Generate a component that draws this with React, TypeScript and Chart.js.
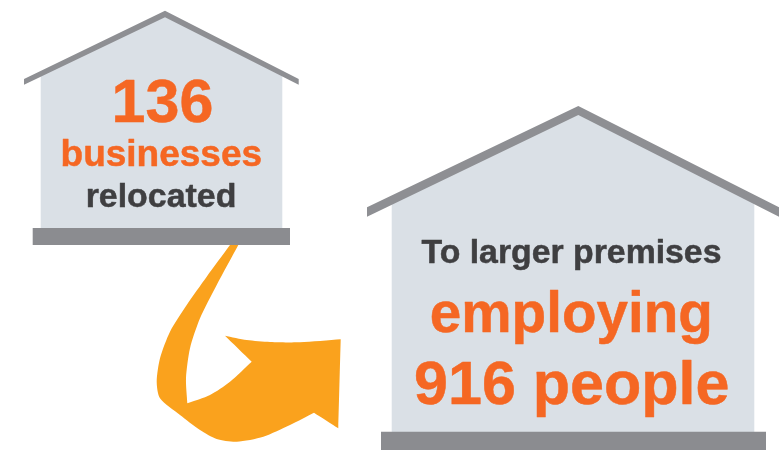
import React, { useEffect, useRef } from "react";
import { Chart, registerables } from "chart.js";

Chart.register(...registerables);

type P = [number, number];

const relocatedBusinesses = 136;
const peopleEmployed = 916;

const smallWalls: P[] = [[40.7, 76], [165, 16], [282.3, 76], [282.3, 228], [40.7, 228]];
const smallRoof: P[] = [[24, 79], [165, 10.7], [298.7, 79], [298.7, 84.8], [165, 17.2], [24, 84.8]];
const smallBase: P[] = [[32.7, 228], [290, 228], [290, 245], [32.7, 245]];

const largeWalls: P[] = [[391.7, 202], [578.3, 114], [754.3, 202], [754.3, 432], [391.7, 432]];
const largeRoof: P[] = [[367, 207.3], [578.3, 106], [779, 207.3], [779, 216.7], [578.3, 115], [367, 216.7]];
const largeBase: P[] = [[381, 431.7], [766, 431.7], [766, 450], [381, 450]];

// Outline; a repeated point is a sharp corner of the arrow.
const arrowShape: P[] = [
  [230, 245], [230, 245], [238.3, 245], [238.3, 245], [216.7, 285], [200, 318.3],
  [190, 348.3], [186, 378.3], [187.3, 403.3], [187.3, 403.3], [210, 395],
  [230, 381.7], [251.7, 361.7], [251.7, 361.7], [225, 335.7], [225, 335.7], [246.7, 340], [270, 342],
  [300, 342.3], [340.7, 339.3], [340.7, 339.3], [338.3, 428.3], [338.3, 428.3], [314, 412.7], [314, 412.7],
  [290, 425], [263.3, 436.7], [236.7, 441.7], [216.7, 439], [200, 430], [180, 415],
  [160, 398.3], [156.7, 381.7], [160, 358.3], [170, 331.7], [186.7, 305],
  [206.7, 276.7], [230, 245], [230, 245],
];

const ORANGE = "#F56723";
const DARK = "#3F3F41";

const textLines: { text: string; x: number; y: number; size: number; color: string }[] = [
  { text: String(relocatedBusinesses), x: 162.5, y: 121.7, size: 61, color: ORANGE },
  { text: "businesses", x: 161.3, y: 165.7, size: 37, color: ORANGE },
  { text: "relocated", x: 161, y: 206.7, size: 33.9, color: DARK },
  { text: "To larger premises", x: 571.5, y: 262.7, size: 33.8, color: DARK },
  { text: "employing", x: 571.3, y: 331.7, size: 56.6, color: ORANGE },
  { text: `${peopleEmployed} people`, x: 571.7, y: 404.3, size: 61, color: ORANGE },
];

const shape = (label: string, pts: P[], color: string, tension = 0) => ({
  label,
  data: pts.map(([x, y]) => ({ x, y })),
  showLine: true,
  fill: "shape" as const,
  backgroundColor: color,
  borderColor: color,
  borderWidth: 0,
  pointRadius: 0,
  tension,
  clip: false as const,
});

const textPlugin = {
  id: "houseText",
  afterDatasetsDraw(chart: any) {
    const { ctx, scales } = chart;
    ctx.save();
    ctx.textAlign = "center";
    ctx.textBaseline = "alphabetic";
    ctx.lineJoin = "round";
    ctx.lineWidth = 0.5;
    for (const t of textLines) {
      ctx.font = `bold ${t.size}px "Liberation Sans", Arial, sans-serif`;
      ctx.fillStyle = t.color;
      ctx.strokeStyle = t.color;
      const px = scales.x.getPixelForValue(t.x);
      const py = scales.y.getPixelForValue(t.y);
      ctx.fillText(t.text, px, py);
      ctx.strokeText(t.text, px, py);
    }
    ctx.restore();
  },
};

export default function App() {
  const ref = useRef<HTMLCanvasElement>(null);
  useEffect(() => {
    if (!ref.current) return;
    const chart = new Chart(ref.current, {
      type: "scatter",
      data: {
        datasets: [
          shape("Small roof", smallRoof, "#8E8F93"),
          shape("Small base", smallBase, "#8B8C90"),
          shape("Small walls", smallWalls, "#DAE0E6"),
          shape("Large roof", largeRoof, "#8E8F93"),
          shape("Large base", largeBase, "#8B8C90"),
          shape("Large walls", largeWalls, "#DAE0E6"),
          shape("Arrow", arrowShape, "#FAA21D", 0.25),
        ] as any,
      },
      options: {
        responsive: false,
        animation: false,
        layout: { padding: 0 },
        events: [],
        scales: {
          x: { type: "linear", min: 0, max: 779, display: false },
          y: { type: "linear", min: 0, max: 450, reverse: true, display: false },
        },
        plugins: {
          legend: { display: false },
          tooltip: { enabled: false },
          title: { display: false },
        },
      },
      plugins: [textPlugin],
    });
    return () => chart.destroy();
  }, []);
  return (
    <div style={{ position: "absolute", left: 0, top: 0, width: 779, height: 450, background: "#fff" }}>
      <canvas ref={ref} width={779} height={450} style={{ display: "block" }} />
    </div>
  );
}
